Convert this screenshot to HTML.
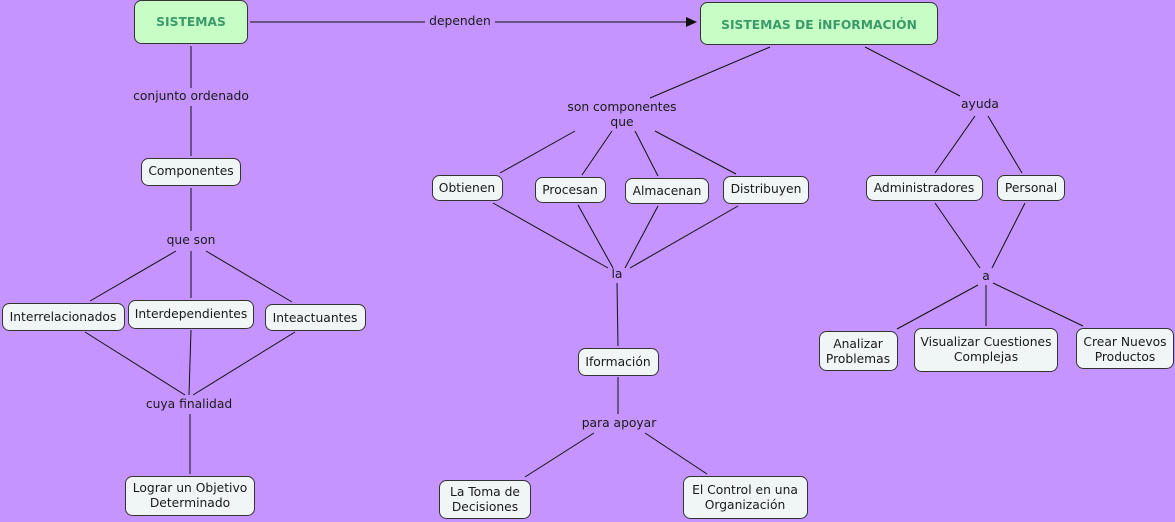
<!DOCTYPE html>
<html><head><meta charset="utf-8"><style>
html,body{margin:0;padding:0;background:#c594fe;}
svg{display:block}
text{font-family:"DejaVu Sans","Liberation Sans",sans-serif;font-size:12.3px;fill:#1a1a1a;text-anchor:middle}
.n{fill:#f0f6f6;stroke:#333;stroke-width:1}
.m{fill:#c6fec6;stroke:#333;stroke-width:1}
.g{fill:#3c9a6a;font-weight:bold}
line{stroke:#111;stroke-width:1}
</style></head><body>
<svg width="1175" height="522" viewBox="0 0 1175 522">
<line x1="250" y1="22" x2="425" y2="22"/><line x1="495" y1="22" x2="688" y2="22"/>
<polygon points="697,22 686,17 686,27" fill="#111"/>
<line x1="191" y1="46" x2="191" y2="88"/><line x1="191" y1="106" x2="191" y2="156"/>
<line x1="191" y1="188" x2="191" y2="231"/>
<line x1="176" y1="251" x2="90" y2="301"/><line x1="191" y1="251" x2="191" y2="298"/><line x1="206" y1="251" x2="292" y2="302"/>
<line x1="85" y1="332" x2="185" y2="395"/><line x1="191" y1="330" x2="189" y2="395"/><line x1="295" y1="332" x2="193" y2="395"/>
<line x1="190" y1="414" x2="190" y2="474"/>
<line x1="770" y1="47" x2="650" y2="98"/><line x1="865" y1="47" x2="960" y2="96"/>
<line x1="575" y1="131" x2="500" y2="173"/><line x1="612" y1="131" x2="582" y2="175"/><line x1="635" y1="131" x2="658" y2="176"/><line x1="655" y1="131" x2="736" y2="174"/>
<line x1="493" y1="203" x2="608" y2="268"/><line x1="578" y1="205" x2="613" y2="268"/><line x1="658" y1="206" x2="625" y2="268"/><line x1="738" y1="206" x2="630" y2="268"/>
<line x1="617" y1="283" x2="618" y2="346"/>
<line x1="618" y1="377" x2="618" y2="414"/>
<line x1="594" y1="433" x2="525" y2="477"/><line x1="645" y1="433" x2="707" y2="474"/>
<line x1="975" y1="116" x2="935" y2="173"/><line x1="988" y1="116" x2="1022" y2="173"/>
<line x1="935" y1="203" x2="980" y2="268"/><line x1="1025" y1="203" x2="992" y2="268"/>
<line x1="978" y1="285" x2="897" y2="329"/><line x1="986" y1="285" x2="986" y2="326"/><line x1="993" y1="283" x2="1083" y2="326"/>
<text x="460" y="25">dependen</text>
<text x="191" y="100">conjunto ordenado</text>
<text x="191" y="244">que son</text>
<text x="189" y="408">cuya finalidad</text>
<text x="622" y="111">son componentes</text><text x="622" y="126">que</text>
<text x="980" y="108">ayuda</text>
<text x="617" y="278">la</text>
<text x="619" y="427">para apoyar</text>
<text x="986" y="280">a</text>
<rect class="m" x="134.5" y="0.5" width="113" height="43" rx="7"/><text class="g" x="191" y="26">SISTEMAS</text>
<rect class="m" x="700.5" y="2.5" width="237" height="42" rx="7"/><text class="g" x="819" y="29">SISTEMAS DE iNFORMACIÓN</text>
<rect class="n" x="141.5" y="158.5" width="99" height="27" rx="7"/><text x="191" y="175">Componentes</text>
<rect class="n" x="2.5" y="303.5" width="122" height="27" rx="7"/><text x="63" y="321">Interrelacionados</text>
<rect class="n" x="128.5" y="300.5" width="125" height="28" rx="7"/><text x="191" y="318">Interdependientes</text>
<rect class="n" x="265.5" y="304.5" width="100" height="26" rx="7"/><text x="315" y="322">Inteactuantes</text>
<rect class="n" x="125.5" y="476.5" width="129" height="39" rx="7"/><text x="190" y="492">Lograr un Objetivo</text><text x="190" y="507">Determinado</text>
<rect class="n" x="432.5" y="175.5" width="70" height="25" rx="7"/><text x="467" y="192">Obtienen</text>
<rect class="n" x="535.5" y="177.5" width="70" height="25" rx="7"/><text x="570" y="194">Procesan</text>
<rect class="n" x="625.5" y="178.5" width="83" height="25" rx="7"/><text x="667" y="195">Almacenan</text>
<rect class="n" x="723.5" y="176.5" width="85" height="27" rx="7"/><text x="766" y="193">Distribuyen</text>
<rect class="n" x="578.5" y="348.5" width="80" height="27" rx="7"/><text x="618" y="366">Iformación</text>
<rect class="n" x="439.5" y="480.5" width="91" height="38" rx="7"/><text x="485" y="496">La Toma de</text><text x="485" y="511">Decisiones</text>
<rect class="n" x="683.5" y="476.5" width="124" height="42" rx="7"/><text x="745" y="494">El Control en una</text><text x="745" y="509">Organización</text>
<rect class="n" x="866.5" y="175.5" width="116" height="25" rx="7"/><text x="924" y="192">Administradores</text>
<rect class="n" x="997.5" y="175.5" width="67" height="25" rx="7"/><text x="1031" y="192">Personal</text>
<rect class="n" x="819.5" y="331.5" width="78" height="39" rx="7"/><text x="858" y="348">Analizar</text><text x="858" y="363">Problemas</text>
<rect class="n" x="914.5" y="328.5" width="143" height="43" rx="7"/><text x="986" y="346">Visualizar Cuestiones</text><text x="986" y="361">Complejas</text>
<rect class="n" x="1076.5" y="328.5" width="97" height="40" rx="7"/><text x="1125" y="346">Crear Nuevos</text><text x="1125" y="361">Productos</text>
</svg>
</body></html>
